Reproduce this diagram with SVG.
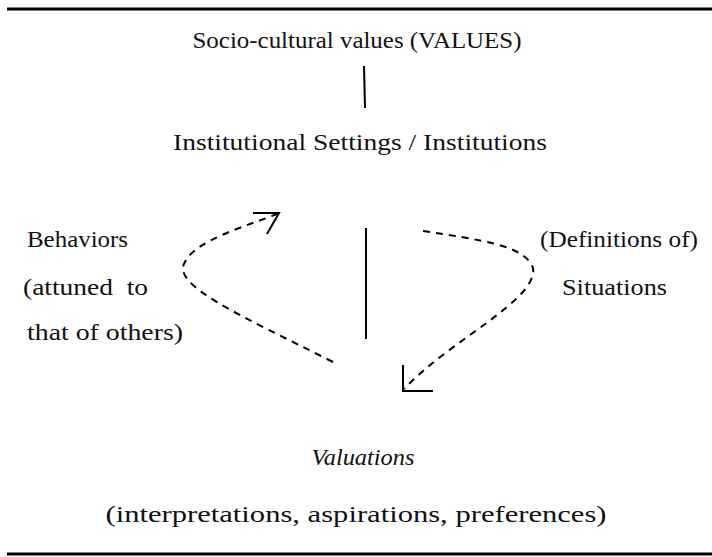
<svg xmlns="http://www.w3.org/2000/svg" width="712" height="557" viewBox="0 0 712 557">
<style>
text{font-family:"Liberation Serif","DejaVu Serif","Times New Roman",serif;font-size:24px;fill:#111}
.c{text-anchor:middle}
.d{fill:none;stroke:#000;stroke-width:2;stroke-dasharray:7,6}
.s{fill:none;stroke:#000;stroke-width:2}
.r{stroke:#000;stroke-width:3}
</style>
<rect width="712" height="557" fill="#fff"/>
<line class="r" x1="7" y1="9" x2="712" y2="9"/>
<line class="r" x1="7" y1="554" x2="712" y2="554"/>
<g id="values"><text x="357" y="48" class="c" textLength="329" lengthAdjust="spacingAndGlyphs">Socio-cultural values (VALUES)</text></g>
<g id="institutions"><text x="360" y="150" class="c" textLength="374" lengthAdjust="spacingAndGlyphs">Institutional Settings / Institutions</text></g>
<g id="behaviors">
<text x="27" y="247" textLength="101" lengthAdjust="spacingAndGlyphs">Behaviors</text>
<text x="23" y="295" textLength="125" lengthAdjust="spacingAndGlyphs" xml:space="preserve">(attuned  to</text>
<text x="27" y="340" textLength="156" lengthAdjust="spacingAndGlyphs">that of others)</text>
</g>
<g id="situations">
<text x="540" y="247" textLength="158" lengthAdjust="spacingAndGlyphs">(Definitions of)</text>
<text x="562" y="295" textLength="105" lengthAdjust="spacingAndGlyphs">Situations</text>
</g>
<g id="valuations">
<text x="363" y="465" class="c" font-style="italic" textLength="103" lengthAdjust="spacingAndGlyphs">Valuations</text>
<text x="356" y="522" class="c" textLength="501" lengthAdjust="spacingAndGlyphs">(interpretations, aspirations, preferences)</text>
</g>
<g id="connectors">
<line class="s" x1="364" y1="66" x2="365" y2="108"/>
<line class="s" x1="366" y1="228" x2="366" y2="339"/>
<path class="d" d="M333,362 C240,315 170,285 185,262 C195,240 250,225 277,214"/>
<path class="s" d="M253,213 L279,213 L267,234"/>
<path class="d" d="M423,231 C480,240 525,245 533,268 C538,300 450,340 404,389"/>
<path class="s" d="M403,365 L403,391 L433,391"/>
</g>
</svg>
